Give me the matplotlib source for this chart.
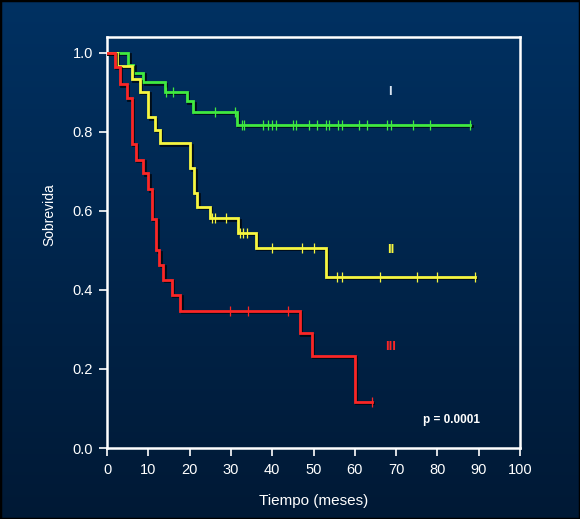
import numpy as np
import matplotlib
matplotlib.use("Agg")
import matplotlib.pyplot as plt
import matplotlib.patheffects as pe
from matplotlib.patches import Rectangle

# Kaplan-Meier step data (time in months, survival)
t_I = [0, 5.2, 6.4, 8.8, 14.0, 19.3, 20.9, 31.4, 88.0]
s_I = [1.0, 0.970, 0.949, 0.925, 0.902, 0.877, 0.851, 0.818, 0.818]
cens_I = [14.2, 15.9, 26.1, 31.0, 32.6, 33.2, 37.8, 38.9, 39.9, 40.9, 45.1, 45.8,
          49.0, 50.9, 53.0, 53.8, 56.0, 57.0, 61.0, 63.0, 67.9, 68.7, 74.2, 78.1, 88.0]

t_II = [0, 2.3, 6.0, 8.0, 10.0, 11.6, 12.8, 20.2, 21.1, 21.9, 24.9, 31.8, 36.0, 53.0, 89.1]
s_II = [1.0, 0.967, 0.933, 0.902, 0.837, 0.805, 0.771, 0.708, 0.645, 0.611, 0.581,
        0.544, 0.506, 0.433, 0.433]
cens_II = [25.3, 26.1, 28.8, 32.2, 33.0, 33.8, 39.9, 47.1, 50.0, 55.8, 56.8, 66.1,
           75.0, 80.0, 89.1]

t_III = [0, 1.9, 3.1, 4.8, 6.0, 7.0, 8.8, 10.0, 10.8, 11.9, 12.7, 13.6, 15.7, 17.7,
         46.7, 49.6, 60.0, 64.1]
s_III = [1.0, 0.965, 0.920, 0.885, 0.770, 0.730, 0.695, 0.655, 0.580, 0.500, 0.463,
         0.425, 0.387, 0.347, 0.290, 0.233, 0.117, 0.117]
cens_III = [29.8, 34.2, 43.9, 64.1]

groups = ["I", "II", "III"]
x_ticks = [0, 10, 20, 30, 40, 50, 60, 70, 80, 90, 100]
y_ticks = [0.0, 0.2, 0.4, 0.6, 0.8, 1.0]

plt.rcParams["font.family"] = ["Liberation Sans", "DejaVu Sans"]

fig = plt.figure(figsize=(5.8, 5.19), dpi=100)

# background gradient
bg = fig.add_axes([0, 0, 1, 1], zorder=-10)
grad = np.linspace(0, 1, 256)[:, None]
top = np.array([0x00, 0x31, 0x62]) / 255
bot = np.array([0x01, 0x19, 0x35]) / 255
img = top[None, None, :] * (1 - grad[:, :, None]) + bot[None, None, :] * grad[:, :, None]
bg.imshow(img, aspect="auto", extent=[0, 1, 0, 1])
bg.add_patch(Rectangle((0, 0), 1, 1, fill=False, edgecolor="black", linewidth=2.5,
                       transform=bg.transAxes))
bg.set_axis_off()

ax = fig.add_axes([0.1845, 0.1368, 0.7121, 0.7919])
ax.set_facecolor("none")

shadow = [pe.SimpleLineShadow(offset=(1, -1), shadow_color="black", alpha=0.7), pe.Normal()]

series = [
    (t_I, s_I, cens_I, "#40ea40"),
    (t_II, s_II, cens_II, "#f6f640"),
    (t_III, s_III, cens_III, "#fa2626"),
]
for t, s, cens, color in series:
    ax.step(t, s, where="post", color=color, linewidth=2.0, path_effects=shadow,
            solid_joinstyle="miter", zorder=3)
    idx = np.searchsorted(t, cens, side="right") - 1
    ax.plot(cens, np.array(s)[idx], linestyle="none", marker="|", markersize=6.5,
            markeredgewidth=0.9, color=color, zorder=4)

label_colors = ["#d8e4f0", "#f6f640", "#fa2626"]
label_pos = [(68.5, 0.90), (68.8, 0.50), (68.6, 0.255)]
for g, c, (lx, ly) in zip(groups, label_colors, label_pos):
    ax.text(lx, ly, g, color=c, fontsize=9.5, fontweight="bold", ha="center", va="center")
ax.text(83.5, 0.072, "p = 0.0001", color="white", fontsize=8.5, fontweight="bold",
        ha="center", va="center")

ax.set_xlim(0, 100)
ax.set_ylim(0, 1.04)
ax.set_xticks(x_ticks)
ax.set_yticks(y_ticks)
ax.set_yticklabels([f"{v:.1f}" for v in y_ticks])
for sp in ax.spines.values():
    sp.set_color("white")
    sp.set_linewidth(1.8)
ax.tick_params(colors="white", labelsize=10.5, length=6, width=1.2, direction="out", pad=4)
ax.tick_params(axis="x", pad=5)
ax.set_xlabel("Tiempo (meses)", color="white", fontsize=11)
ax.set_ylabel("Sobrevida", color="white", fontsize=10)
ax.xaxis.set_label_coords(0.5, -0.112)
ax.yaxis.set_label_coords(-0.122, 0.567)

fig.savefig("out.png", dpi=100)
